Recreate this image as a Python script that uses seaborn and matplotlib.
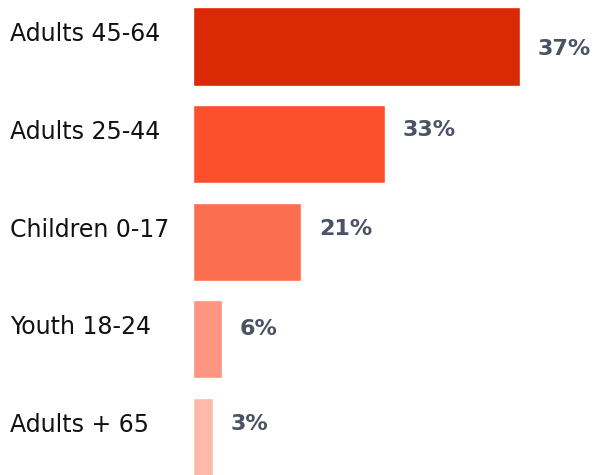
import matplotlib
matplotlib.use("Agg")
import matplotlib.pyplot as plt
import matplotlib.transforms as mtransforms
import pandas as pd
import seaborn as sns

# data
groups = ["Adults 45-64", "Adults 25-44", "Children 0-17", "Youth 18-24", "Adults + 65"]
pct_labels = ["37%", "33%", "21%", "6%", "3%"]
# bar lengths as drawn (the bars are not to scale with the labels)
bar_len = [327, 192, 108, 29, 20]
colors = ["#DA2905", "#FD4F2C", "#FC6E50", "#FD9580", "#FDBAA9"]

# vertical nudge of the % labels (pixels, up is positive)
pct_nudge = [-3, 14, 13, 10, 13]

df = pd.DataFrame({"group": groups, "len": bar_len})

sns.set_style("white")
plt.rcParams["font.family"] = ["DejaVu Sans"]

fig = plt.figure(figsize=(5.95, 4.75), dpi=100)
ax = fig.add_axes([193 / 595, 0, 402 / 595, 1])

sns.barplot(data=df, y="group", x="len", hue="group", palette=colors,
            legend=False, width=0.8, saturation=1, ax=ax)

ax.set_xlim(0, 402)
ax.set_ylim(4.39, -0.476)
ax.axis("off")

# percentage labels to the right of each bar
for i, (v, t) in enumerate(zip(bar_len, pct_labels)):
    tr = mtransforms.offset_copy(ax.transData, fig=fig, x=18, y=pct_nudge[i], units="dots")
    ax.text(v, i, t, transform=tr, ha="left", va="center",
            fontsize=16, fontweight="bold", color="#4A5263")

# group names on the left
name_tr = mtransforms.offset_copy(ax.get_yaxis_transform(), fig=fig, x=0, y=12, units="dots")
for i, g in enumerate(groups):
    ax.text(-183 / 402, i, g, transform=name_tr, ha="left", va="center",
            fontsize=17, color="#111111", clip_on=False)

fig.savefig("out.png", dpi=100)
